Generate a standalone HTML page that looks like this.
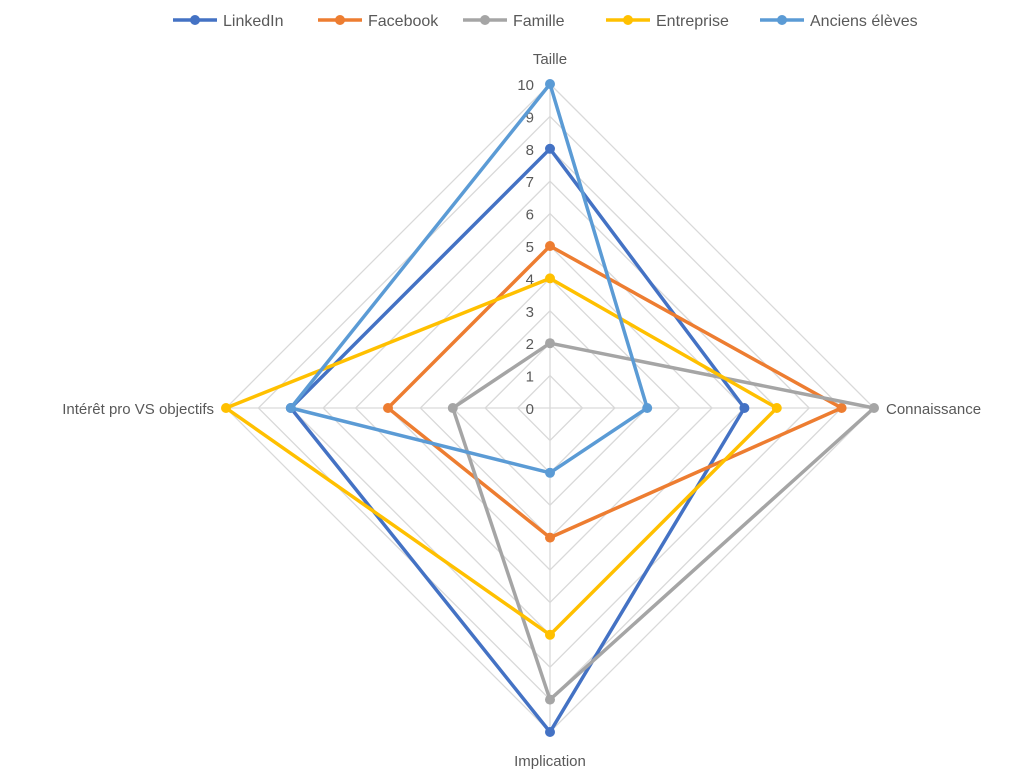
<!DOCTYPE html>
<html><head><meta charset="utf-8"><style>
body{margin:0;background:#fff;}
svg text{font-family:"Liberation Sans",sans-serif;}
</style></head><body>
<svg id="chart" width="1025" height="774" xmlns="http://www.w3.org/2000/svg">
<g id="grid"></g>
<g id="ticks"></g>
<g id="cats"></g>
<g id="series"></g>
<g id="legend"></g>
</svg>
<script>
const categories=["Taille","Connaissance","Implication","Intérêt pro VS objectifs"];
const seriesNames=["LinkedIn","Facebook","Famille","Entreprise","Anciens élèves"];
const linkedin=[8,6,10,8];
const facebook=[5,9,4,5];
const famille=[2,10,9,3];
const entreprise=[4,7,7,10];
const anciens=[10,3,2,8];
const tickLabels=[0,1,2,3,4,5,6,7,8,9,10];
const seriesValues=[linkedin,facebook,famille,entreprise,anciens];
const colors=["#4472C4","#ED7D31","#A5A5A5","#FFC000","#5B9BD5"];
const NS="http://www.w3.org/2000/svg";
const cx=550,cy=408,R=324,maxV=10;
function pt(i,v){const a=-Math.PI/2+i*2*Math.PI/categories.length;const r=v/maxV*R;return [cx+r*Math.cos(a),cy+r*Math.sin(a)];}
function mk(tag,attrs,parent){const e=document.createElementNS(NS,tag);for(const k in attrs)e.setAttribute(k,attrs[k]);parent.appendChild(e);return e;}
const grid=document.getElementById('grid');
tickLabels.forEach(t=>{if(t===0)return;const p=categories.map((c,i)=>pt(i,t).join(',')).join(' ');
const e=mk('polygon',{points:p,fill:'none',stroke:'#D9D9D9','stroke-width':1.3},grid);

});
categories.forEach((c,i)=>{const [x,y]=pt(i,maxV);const e=mk('line',{x1:cx,y1:cy,x2:x,y2:y,stroke:'#D9D9D9','stroke-width':1.3},grid);

});
const ticks=document.getElementById('ticks');
tickLabels.forEach(t=>{const [x,y]=pt(0,t);const e=mk('text',{x:x-16,y:y+6,'text-anchor':'end','font-size':15,fill:'#595959'},ticks);e.textContent=t;

});
const cats=document.getElementById('cats');
const off=[[0,-20,'middle'],[12,6,'start'],[0,34,'middle'],[-12,6,'end']];
categories.forEach((c,i)=>{const [x,y]=pt(i,maxV);const e=mk('text',{x:x+off[i][0],y:y+off[i][1],'text-anchor':off[i][2],'font-size':15,fill:'#595959'},cats);e.textContent=c;

});
const sg=document.getElementById('series');
seriesValues.forEach((vals,s)=>{const g=mk('g',{},sg);


const p=vals.map((v,i)=>pt(i,v).join(',')).join(' ');
mk('polygon',{points:p,fill:'none',stroke:colors[s],'stroke-width':3.5,'stroke-linejoin':'round'},g);
vals.forEach((v,i)=>{const [x,y]=pt(i,v);const c=mk('circle',{cx:x,cy:y,r:5,fill:colors[s]},g);

});});
const lg=document.getElementById('legend');
const lx=[173,318,463,606,760];
seriesNames.forEach((n,s)=>{const g=mk('g',{},lg);


mk('line',{x1:lx[s],y1:20,x2:lx[s]+44,y2:20,stroke:colors[s],'stroke-width':3.5},g);
mk('circle',{cx:lx[s]+22,cy:20,r:5,fill:colors[s]},g);
const t=mk('text',{x:lx[s]+50,y:26,'font-size':16,fill:'#595959'},g);t.textContent=n;});
</script>
</body></html>
